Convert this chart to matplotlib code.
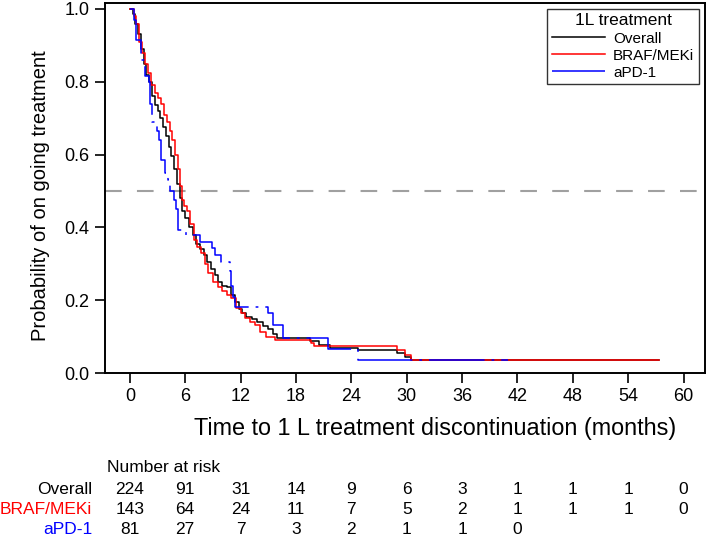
import matplotlib
matplotlib.use('Agg')
import matplotlib.pyplot as plt
import matplotlib.transforms as mtransforms

plt.rcParams['font.family'] = ['Liberation Sans', 'DejaVu Sans']
plt.rcParams['lines.scale_dashes'] = False

# KM step points (time in months, probability)
overall_t = [0, 0.3, 0.6, 0.9, 1.2, 1.5, 1.8, 2.1, 2.4, 2.7, 3.0, 3.3, 3.6, 3.9, 4.2,
             4.5, 4.8, 5.1, 5.4, 5.7, 6.0, 6.4, 6.8, 7.2, 7.6, 8.0, 8.4, 8.8, 9.2,
             9.6, 10.0, 10.5, 11.0, 11.4, 11.8, 12.2, 12.6, 13.2, 13.8, 14.4, 15.0,
             15.5, 16.0, 19.5, 20.5, 21.7, 24.7, 28.9, 29.8, 30.5, 57.3]
overall_s = [1.0, 0.985, 0.96, 0.93, 0.89, 0.85, 0.82, 0.80, 0.76, 0.735, 0.72, 0.70,
             0.675, 0.65, 0.62, 0.595, 0.56, 0.52, 0.48, 0.445, 0.425, 0.40, 0.38,
             0.355, 0.34, 0.325, 0.305, 0.285, 0.27, 0.25, 0.24, 0.235, 0.215, 0.195,
             0.175, 0.165, 0.155, 0.148, 0.14, 0.13, 0.12, 0.108, 0.095, 0.087, 0.078,
             0.068, 0.063, 0.056, 0.043, 0.036, 0.036]

braf_t = [0, 0.4, 0.7, 1.0, 1.3, 1.6, 2.0, 2.3, 2.7, 3.1, 3.4, 3.7, 4.0, 4.3, 4.6,
          4.9, 5.2, 5.4, 5.6, 5.9, 6.2, 6.5, 6.9, 7.3, 7.7, 8.1, 8.5, 9.0, 9.5, 10.0,
          10.5, 11.0, 11.5, 12.0, 12.5, 13.0, 13.6, 14.1, 14.8, 15.7, 19.6, 20.0,
          28.9, 29.8, 30.5, 57.3]
braf_s = [1.0, 0.98, 0.96, 0.91, 0.88, 0.85, 0.825, 0.79, 0.77, 0.755, 0.74, 0.71,
          0.69, 0.665, 0.64, 0.60, 0.56, 0.515, 0.475, 0.46, 0.445, 0.41, 0.365,
          0.345, 0.33, 0.30, 0.275, 0.25, 0.235, 0.225, 0.215, 0.205, 0.18, 0.165,
          0.15, 0.14, 0.132, 0.113, 0.10, 0.09, 0.082, 0.073, 0.062, 0.05, 0.036,
          0.036]

apd_t = [0, 0.5, 0.7, 1.2, 1.6, 2.1, 2.2, 2.4, 2.9, 3.2, 3.4, 3.8, 4.1, 4.3, 4.8,
         5.0, 5.2, 6.1, 7.6, 8.85, 9.2, 9.9, 10.8, 11.0, 11.2, 11.4, 15.0, 15.5,
         16.6, 21.5, 24.7, 41.0]
apd_s = [1.0, 0.97, 0.915, 0.86, 0.815, 0.80, 0.74, 0.69, 0.665, 0.64, 0.585, 0.55,
         0.53, 0.50, 0.475, 0.45, 0.393, 0.379, 0.36, 0.343, 0.324, 0.306, 0.28,
         0.24, 0.21, 0.182, 0.164, 0.132, 0.097, 0.065, 0.036, 0.036]

# number at risk
risk_times = [0, 6, 12, 18, 24, 30, 36, 42, 48, 54, 60]
risk_overall = [224, 91, 31, 14, 9, 6, 3, 1, 1, 1, 0]
risk_braf = [143, 64, 24, 11, 7, 5, 2, 1, 1, 1, 0]
risk_apd = [81, 27, 7, 3, 2, 1, 1, 0]

fig = plt.figure(figsize=(7.09, 5.43), dpi=100)
ax = fig.add_axes([0.148, 0.313, 0.846, 0.6815])

ax.axhline(0.5, color='#a0a0a0', lw=1.5, linestyle=(0, (12, 11)), zorder=1)
ax.plot(overall_t, overall_s, drawstyle='steps-post', color='black', lw=1.1,
        label='Overall', zorder=2)
ax.plot(braf_t, braf_s, drawstyle='steps-post', color='#ff0000', lw=1.1,
        label='BRAF/MEKi', zorder=3)
ax.plot(apd_t, apd_s, drawstyle='steps-post', color='#0000ff', lw=1.1,
        linestyle=(0, (40, 5, 2, 5)), label='aPD-1', zorder=4)

ax.set_xlim(-2.7, 62.3)
ax.set_ylim(0, 1.0165)
ax.set_xticks(risk_times)
ax.set_yticks([0.0, 0.2, 0.4, 0.6, 0.8, 1.0])
ax.set_yticklabels(['0.0', '0.2', '0.4', '0.6', '0.8', '1.0'])
ax.tick_params(direction='out', length=7, width=1.2, labelsize=13, pad=4)
for sp in ax.spines.values():
    sp.set_linewidth(1.4)

ax.set_ylabel('Probability of on going treatment', fontsize=14.5)
ax.yaxis.set_label_coords(-0.092, 0.48)
ax.set_xlabel('Time to 1 L treatment discontinuation (months)', fontsize=16.8)
ax.xaxis.set_label_coords(0.55, -0.118)

leg = ax.legend(title='1L treatment', loc='upper right', fontsize=11,
                title_fontsize=12.5, frameon=True, fancybox=False, handlelength=3.5,
                handletextpad=0.5, borderpad=0.3, labelspacing=0.2,
                borderaxespad=0, bbox_to_anchor=(0.99, 0.984))
leg.get_frame().set_edgecolor('black')
leg.get_frame().set_linewidth(1.0)

tr = mtransforms.blended_transform_factory(ax.transData, fig.transFigure)
fig.text(107 / 709, 1 - 467 / 543, 'Number at risk', fontsize=12.5, va='center')
rows = [('Overall', 'black', risk_overall, 490),
        ('BRAF/MEKi', '#ff0000', risk_braf, 510),
        ('aPD-1', '#0000ff', risk_apd, 530)]
for name, col, vals, ypx in rows:
    fig.text(92 / 709, 1 - ypx / 543, name, color=col, fontsize=12.5,
             ha='right', va='center')
    for t, v in zip(risk_times, vals):
        ax.text(t, 1 - ypx / 543, str(v), transform=tr, fontsize=12.5,
                ha='center', va='center', clip_on=False)

fig.savefig('out.png', dpi=100)
